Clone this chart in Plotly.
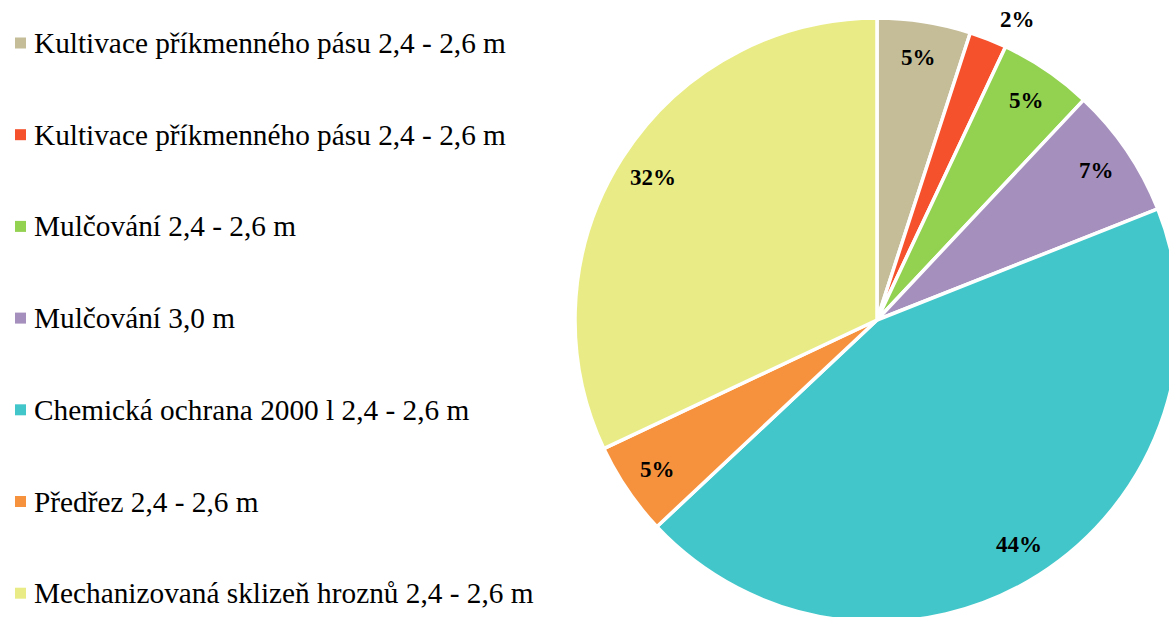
import math
import plotly.graph_objects as go

# Pracovní operace a jejich podíl (%)
categories = [
    "Kultivace příkmenného pásu 2,4 - 2,6 m",
    "Kultivace příkmenného pásu 2,4 - 2,6 m",
    "Mulčování 2,4 - 2,6 m",
    "Mulčování 3,0 m",
    "Chemická ochrana 2000 l 2,4 - 2,6 m",
    "Předřez 2,4 - 2,6 m",
    "Mechanizovaná sklizeň hroznů 2,4 - 2,6 m",
]
shares = [5, 2, 5, 7, 44, 5, 32]
colors = ["#C5BD98", "#F5512C", "#93D151", "#A58FBD", "#43C6C9", "#F6923E", "#E9EC86"]

# canvas and pie geometry (pixels)
W, H = 1190, 640
CX, CY, R = 877, 320, 302
FONT = "Liberation Serif"


def px(x):
    return x / W


def py(y):
    return 1 - y / H


fig = go.Figure(
    go.Pie(
        labels=[str(i) for i in range(len(shares))],
        values=shares,
        sort=False,
        direction="clockwise",
        rotation=0,
        marker=dict(colors=colors, line=dict(color="white", width=3.5)),
        textinfo="none",
        hoverinfo="skip",
        showlegend=False,
        domain=dict(x=[px(CX - R), px(CX + R)], y=[py(CY + R), py(CY - R)]),
    )
)

annotations = []
shapes = []

# percentage labels at each slice's mid angle; thin slices get theirs outside
total = sum(shares)
acc = 0
for v in shares:
    mid = (acc + v / 2) / total * 2 * math.pi
    acc += v
    outside = v < 3
    k = 1.02 if outside else 0.88
    lx = CX + k * R * math.sin(mid)
    ly = CY - k * R * math.cos(mid)
    annotations.append(dict(
        x=px(lx), y=py(ly), xref="paper", yref="paper",
        text=f"<b>{v}%</b>", showarrow=False,
        xanchor="left" if outside else "center",
        yanchor="bottom" if outside else "middle",
        xshift=8 if outside else 0,
        font=dict(family=FONT, size=23, color="black"),
    ))

# legend on the left
Y0, DY = 43, 91.7
for i, (name, c) in enumerate(zip(categories, colors)):
    yc = Y0 + i * DY
    shapes.append(dict(
        type="rect", xref="paper", yref="paper",
        x0=px(15), x1=px(26), y0=py(yc + 5.5), y1=py(yc - 5.5),
        fillcolor=c, line=dict(width=0),
    ))
    annotations.append(dict(
        x=px(32), y=py(yc), xref="paper", yref="paper",
        text=name, showarrow=False, xanchor="left", yanchor="middle",
        font=dict(family=FONT, size=29.3, color="black"),
    ))

fig.update_layout(
    width=W, height=H,
    margin=dict(l=0, r=0, t=0, b=0),
    paper_bgcolor="white",
    plot_bgcolor="white",
    font=dict(family=FONT),
    annotations=annotations,
    shapes=shapes,
)

fig.write_html(
    "out.html",
    post_script="document.body.style.margin='0';document.body.style.overflow='hidden';",
)
